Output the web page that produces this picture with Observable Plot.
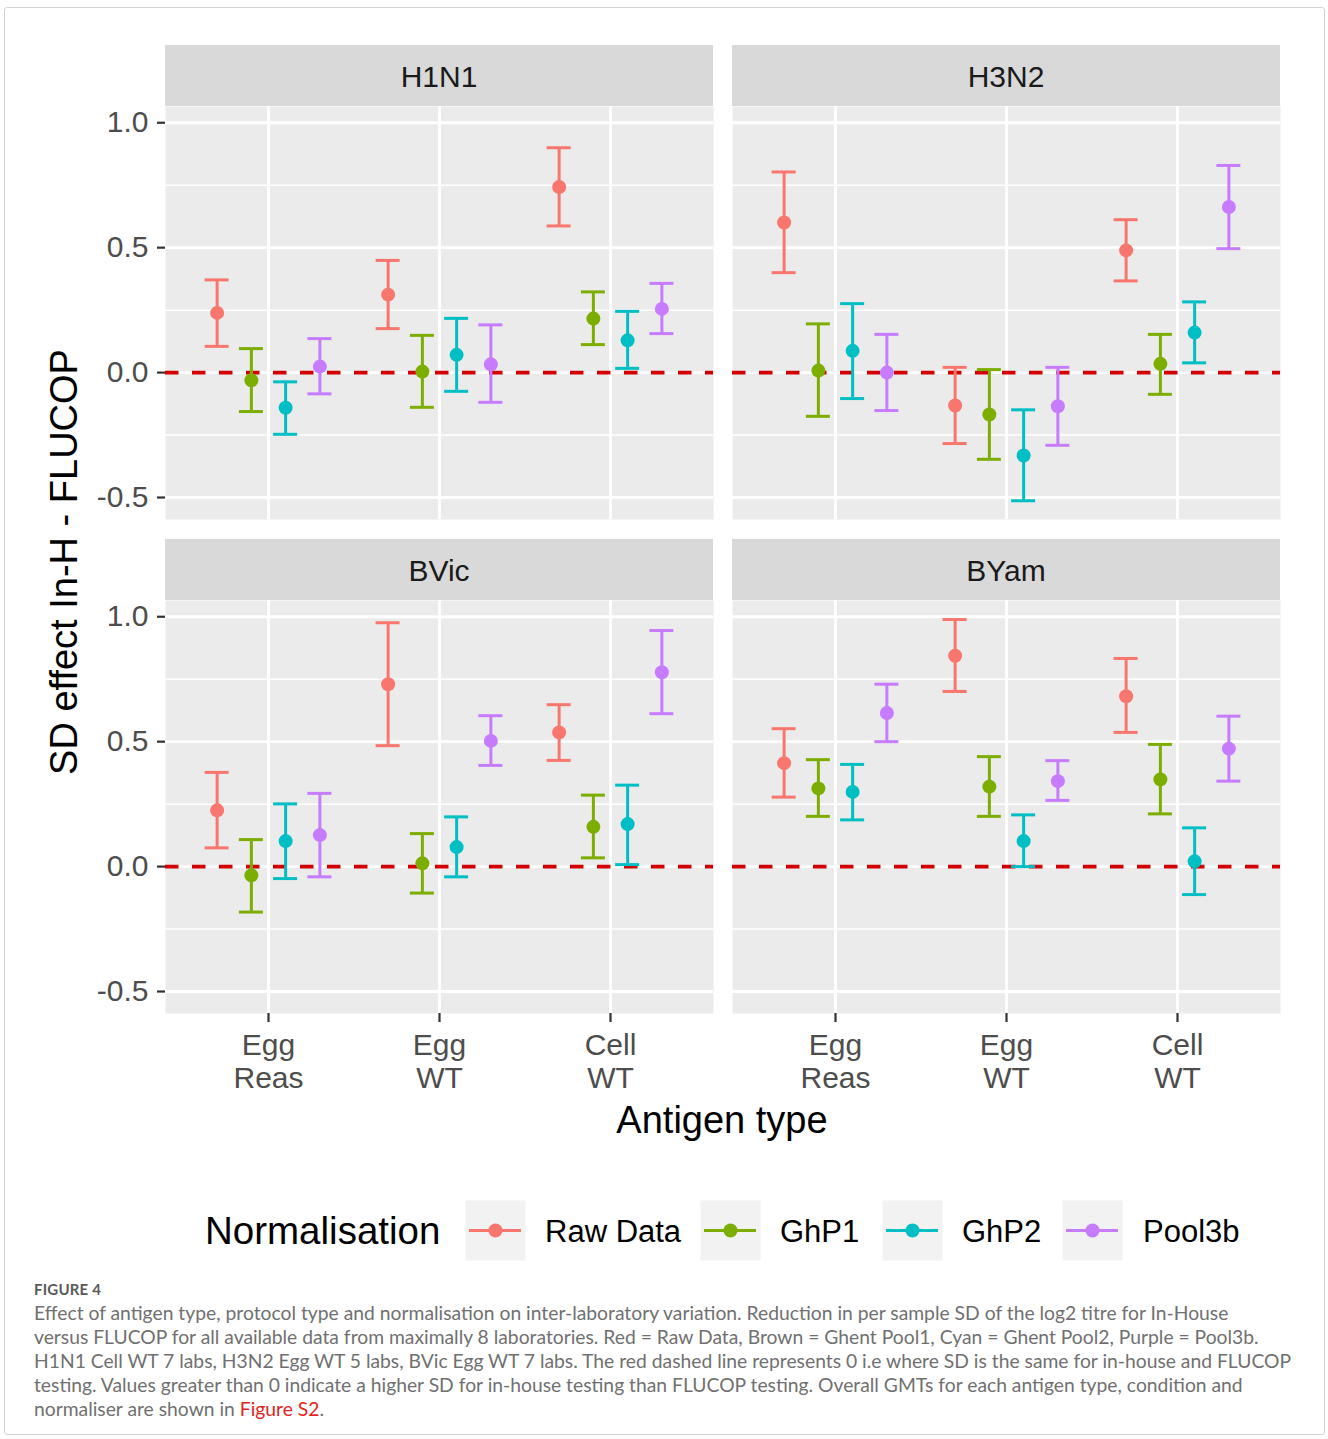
<!DOCTYPE html>
<html>
<head>
<meta charset="utf-8">
<script src="https://cdn.jsdelivr.net/npm/d3@7"></script>
<script src="https://cdn.jsdelivr.net/npm/@observablehq/plot@0.6"></script>
<style>
  body { margin: 0; background: #fff; }
  #fig { position: relative; width: 1328px; height: 1439px; background: #fff; overflow: hidden;
         font-family: "Liberation Sans", Arial, sans-serif; }
  #border { position: absolute; left: 4px; top: 7px; width: 1321px; height: 1428px;
            border: 1px solid #d2d2d2; border-radius: 3px; box-sizing: border-box; }
  .strip { position: absolute; background: #d9d9d9; color: #1a1a1a; font-size: 30px;
           display: flex; align-items: center; justify-content: center; padding-top: 2px; box-sizing: border-box; }
  .t { position: absolute; white-space: nowrap; line-height: 1; }
  .caption { position: absolute; left: 34px; font-family: Lato, "Open Sans", sans-serif; color: #707070;
             font-size: 19.3px; line-height: 24px; white-space: nowrap; }
  .caption a { color: #e2231a; text-decoration: none; }
  .fig4 { position: absolute; left: 34px; top: 1280px; font-family: Lato, sans-serif; font-weight: 700;
          font-size: 15px; color: #5a5a5a; letter-spacing: 0.2px; }
</style>
</head>
<body>
<div id="fig"><div id="border"></div></div>
<script>
// ---------------- data ----------------
const viruses = ["H1N1", "H3N2", "BVic", "BYam"];
const antigenTypes = ["Egg\nReas", "Egg\nWT", "Cell\nWT"];
const normalisations = ["Raw Data", "GhP1", "GhP2", "Pool3b"];
const seriesColors = ["#F8766D", "#7CAE00", "#00BFC4", "#C77CFF"];
const yTicks = [-0.5, 0, 0.5, 1];
const yMinorTicks = [-0.25, 0.25, 0.75];

// values ordered: antigen type (Egg Reas, Egg WT, Cell WT) x normalisation (Raw, GhP1, GhP2, Pool3b)
const h1n1Mean = [0.239, -0.031, -0.141, 0.024,  0.312, 0.004, 0.071, 0.033,  0.743, 0.216, 0.129, 0.255];
const h1n1Low  = [0.105, -0.156, -0.247, -0.085, 0.176, -0.139, -0.075, -0.119, 0.587, 0.112, 0.017, 0.156];
const h1n1High = [0.371, 0.096, -0.037, 0.136,   0.449, 0.149, 0.217, 0.191,  0.900, 0.323, 0.245, 0.357];

const h3n2Mean = [0.601, 0.008, 0.087, 0.000,   -0.132, -0.168, -0.332, -0.135, 0.489, 0.035, 0.160, 0.663];
const h3n2Low  = [0.400, -0.175, -0.104, -0.152, -0.284, -0.347, -0.513, -0.291, 0.367, -0.087, 0.039, 0.496];
const h3n2High = [0.803, 0.195, 0.276, 0.153,    0.021, 0.012, -0.149, 0.021,   0.612, 0.153, 0.283, 0.829];

const bvicMean = [0.225, -0.035, 0.102, 0.126,  0.730, 0.013, 0.078, 0.503,  0.537, 0.159, 0.170, 0.778];
const bvicLow  = [0.075, -0.182, -0.048, -0.041, 0.484, -0.106, -0.041, 0.405, 0.425, 0.035, 0.008, 0.612];
const bvicHigh = [0.377, 0.108, 0.251, 0.293,   0.976, 0.132, 0.199, 0.604,  0.648, 0.286, 0.326, 0.945];

const byamMean = [0.414, 0.313, 0.299, 0.615,  0.844, 0.320, 0.102, 0.342,  0.682, 0.349, 0.021, 0.472];
const byamLow  = [0.278, 0.201, 0.187, 0.500,  0.701, 0.201, 0.000, 0.265,  0.537, 0.211, -0.112, 0.342];
const byamHigh = [0.552, 0.428, 0.409, 0.730,  0.989, 0.440, 0.207, 0.424,  0.833, 0.489, 0.155, 0.602];

// ---------------- layout ----------------
const fig = document.getElementById("fig");
const PW = 548, PH = 413;
const panels = [
  {virus: "H1N1", mean: h1n1Mean, low: h1n1Low, high: h1n1High, left: 165, top: 106, showX: false, showY: true},
  {virus: "H3N2", mean: h3n2Mean, low: h3n2Low, high: h3n2High, left: 732, top: 106, showX: false, showY: false},
  {virus: "BVic", mean: bvicMean, low: bvicLow, high: bvicHigh, left: 165, top: 600, showX: true, showY: true},
  {virus: "BYam", mean: byamMean, low: byamLow, high: byamHigh, left: 732, top: 600, showX: true, showY: false}
];
const FONT = '"Liberation Sans", Arial, sans-serif';
const xPadding = 0.6;
const step = PW / (antigenTypes.length - 1 + 2 * xPadding);
const dodge = 0.2 * step;
const capHalf = 12;

function addText(text, css) {
  const d = document.createElement("div");
  d.className = "t";
  d.textContent = text;
  Object.assign(d.style, css);
  fig.appendChild(d);
  return d;
}

for (const p of panels) {
  const rows = [];
  antigenTypes.forEach((a, i) => normalisations.forEach((n, j) => {
    rows.push({antigen: a, norm: n, mean: p.mean[i * 4 + j], low: p.low[i * 4 + j], high: p.high[i * 4 + j]});
  }));
  const mL = p.showY ? p.left : 0;
  const mB = p.showX ? 100 : 0;
  const marks = [
    Plot.frame({fill: "#EBEBEB", stroke: "none"}),
    Plot.gridY(yMinorTicks, {stroke: "white", strokeOpacity: 1, strokeWidth: 1.5}),
    Plot.gridY(yTicks, {stroke: "white", strokeOpacity: 1, strokeWidth: 2.8}),
    Plot.gridX({stroke: "white", strokeOpacity: 1, strokeWidth: 2.8}),
    Plot.ruleY([0], {stroke: "#d40000", strokeWidth: 3.6, strokeDasharray: "13.5,13.5"})
  ];
  normalisations.forEach((n, j) => {
    const sub = rows.filter(r => r.norm === n);
    const dx = (j - (normalisations.length - 1) / 2) * dodge;
    const cap = {x1: "antigen", x2: "antigen", stroke: "norm", strokeWidth: 3, dx, insetLeft: -capHalf, insetRight: -capHalf};
    marks.push(
      Plot.ruleX(sub, {x: "antigen", y1: "low", y2: "high", stroke: "norm", strokeWidth: 3, dx}),
      Plot.ruleY(sub, {...cap, y: "low"}),
      Plot.ruleY(sub, {...cap, y: "high"}),
      Plot.dot(sub, {x: "antigen", y: "mean", fill: "norm", r: 7, dx})
    );
  });
  if (p.showY) marks.push(Plot.axisY(yTicks, {tickFormat: d => d.toFixed(1), tickSize: 8, tickPadding: 9,
      fontSize: 30, stroke: "#333", strokeWidth: 2.2, fill: "#4d4d4d", label: null}));
  if (p.showX) marks.push(Plot.axisX({tickSize: 9, tickPadding: 9, fontSize: 30, lineHeight: 1.1,
      stroke: "#333", strokeWidth: 2.2, fill: "#4d4d4d", label: null}));
  const chart = Plot.plot({
    width: mL + PW, height: PH + mB,
    marginLeft: mL, marginRight: 0, marginTop: 0, marginBottom: mB,
    style: {fontFamily: FONT, background: "transparent", overflow: "visible"},
    x: {type: "point", domain: antigenTypes, padding: xPadding, ...(p.showX ? {} : {axis: null})},
    y: {domain: [-0.588, 1.065], ...(p.showY ? {} : {axis: null})},
    color: {domain: normalisations, range: seriesColors},
    marks
  });
  chart.style.position = "absolute";
  chart.style.left = (p.left - mL) + "px";
  chart.style.top = p.top + "px";
  fig.appendChild(chart);

  const strip = document.createElement("div");
  strip.className = "strip";
  strip.textContent = p.virus;
  Object.assign(strip.style, {left: p.left + "px", top: (p.top - 61) + "px", width: PW + "px", height: "61px"});
  fig.appendChild(strip);
}

// axis titles
addText("Antigen type", {left: "722px", top: "1120px", transform: "translate(-50%,-50%)", fontSize: "38px", color: "#000"});
addText("SD effect In-H - FLUCOP", {left: "64px", top: "562px", transform: "translate(-50%,-50%) rotate(-90deg)", fontSize: "38px", color: "#000"});

// legend
addText("Normalisation", {left: "205px", top: "1231px", transform: "translateY(-50%)", fontSize: "38.5px", color: "#000"});
const keyX = [465, 700, 882, 1062];
const labelX = [545, 780, 962, 1143];
normalisations.forEach((n, j) => {
  const key = Plot.plot({
    width: 60, height: 60, margin: 0,
    x: {domain: [0, 1], axis: null}, y: {domain: [-1, 1], axis: null},
    style: {background: "transparent", overflow: "visible"},
    marks: [
      Plot.frame({fill: "#F2F2F2", stroke: "none"}),
      Plot.ruleY([0], {stroke: seriesColors[j], strokeWidth: 3, insetLeft: 4, insetRight: 4}),
      Plot.dot([n], {frameAnchor: "middle", r: 7, fill: seriesColors[j]})
    ]
  });
  key.style.position = "absolute";
  key.style.left = keyX[j] + "px";
  key.style.top = "1200px";
  fig.appendChild(key);
  addText(n, {left: labelX[j] + "px", top: "1231px", transform: "translateY(-50%)", fontSize: "31px", color: "#000"});
});

// caption
const f4 = document.createElement("div");
f4.className = "fig4"; f4.textContent = "FIGURE 4"; fig.appendChild(f4);
const cap = document.createElement("div");
cap.className = "caption";
cap.style.top = "1301px";
cap.innerHTML = [
  "Effect of antigen type, protocol type and normalisation on inter-laboratory variation. Reduction in per sample SD of the log2 titre for In-House",
  "versus FLUCOP for all available data from maximally 8 laboratories. Red = Raw Data, Brown = Ghent Pool1, Cyan = Ghent Pool2, Purple = Pool3b.",
  "H1N1 Cell WT 7 labs, H3N2 Egg WT 5 labs, BVic Egg WT 7 labs. The red dashed line represents 0 i.e where SD is the same for in-house and FLUCOP",
  "testing. Values greater than 0 indicate a higher SD for in-house testing than FLUCOP testing. Overall GMTs for each antigen type, condition and",
  'normaliser are shown in <a>Figure S2</a>.'
].join("<br>");
fig.appendChild(cap);
</script>
</body>
</html>
